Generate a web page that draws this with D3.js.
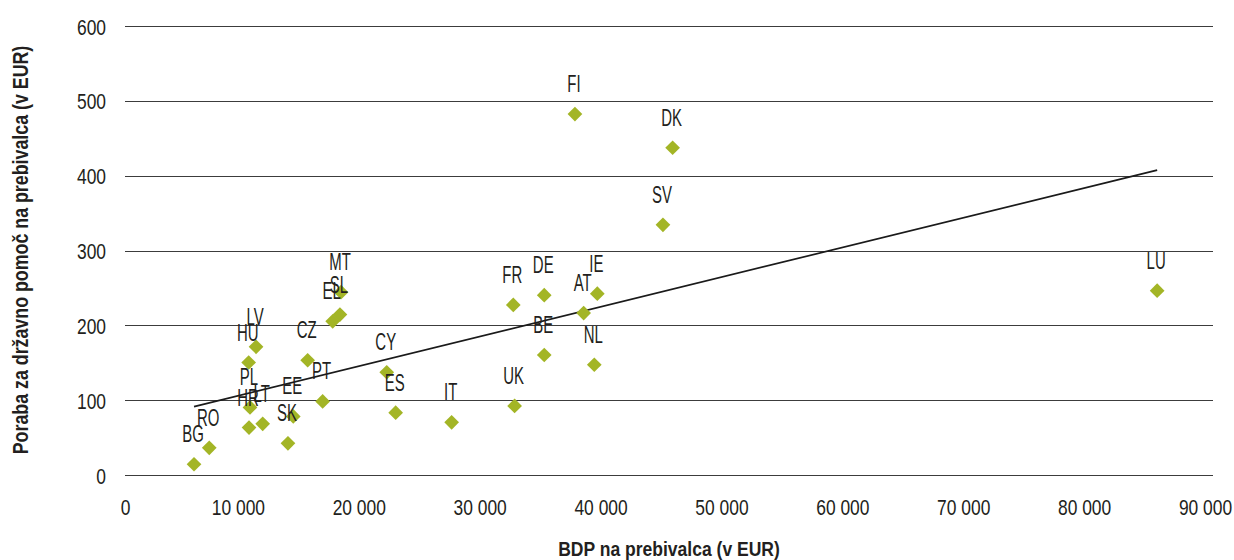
<!DOCTYPE html>
<html>
<head>
<meta charset="utf-8">
<script src="https://cdn.jsdelivr.net/npm/d3@7"></script>
<style>
  html, body { margin: 0; padding: 0; background: #fff; }
  svg { display: block; }
  text { font-family: "Liberation Sans", Arial, sans-serif; fill: #231f20; }
</style>
</head>
<body>
<svg id="chart" width="1234" height="560"></svg>
<script>
// ---- data ----
const countries = ["BG","RO","HR","LT","PL","HU","LV","SK","EE","CZ","PT","EL","SL","MT","CY","ES","IT","FR","UK","DE","BE","AT","IE","NL","SV","DK","FI","LU"];
const gdpPerCapita = [5710,6970,10260,11390,10340,10230,10840,13480,13920,15110,16350,17180,17780,17870,21650,22390,27020,32120,32230,34680,34680,37940,39070,38820,44500,45300,37220,85380];
const aidPerCapita = [15,37,64,69,91,151,172,43,79,154,99,206,215,245,138,84,71,228,93,241,161,217,243,148,335,438,483,247];
const xTicks = [0,10000,20000,30000,40000,50000,60000,70000,80000,90000];
const yTicks = [0,100,200,300,400,500,600];
const trendX = [5710, 85380];
const trendY = [92, 408];
const xTitle = "BDP na prebivalca (v EUR)";
const yTitle = "Poraba za državno pomoč na prebivalca (v EUR)";

// ---- layout ----
const svg = d3.select("#chart");
const mLeft = 125, mRight = 1213, mTop = 26.5, mBottom = 475.5;
const x = d3.scaleLinear().domain([0, 90000]).range([mLeft, mRight]);
const y = d3.scaleLinear().domain([0, 600]).range([mBottom, mTop]);
const fmt = v => v === 0 ? "0" : d3.format(",")(v).replace(/,/g, " ");

// gridlines
svg.append("g").selectAll("line").data(yTicks).join("line")
  .attr("x1", mLeft).attr("x2", mRight)
  .attr("y1", d => Math.floor(y(d)) + 0.5).attr("y2", d => Math.floor(y(d)) + 0.5)
  .attr("stroke", "#3c3c3c").attr("stroke-width", 1);

// y axis labels
const yAxis = d3.axisLeft(y).tickValues(yTicks).tickSize(0).tickPadding(0).tickFormat(d3.format("d"));
const gy = svg.append("g").attr("transform", `translate(106,0)`).call(yAxis);
gy.select(".domain").remove();
gy.attr("font-family", null).attr("font-size", null);
gy.selectAll("text").attr("font-size", 21.5).attr("fill", "#231f20")
  .attr("dy", "0.35em").attr("transform", "scale(0.81,1)");

// x axis labels
const xAxis = d3.axisBottom(x).tickValues(xTicks).tickSize(0).tickPadding(0).tickFormat(fmt);
const gx = svg.append("g").attr("transform", `translate(0,${mBottom})`).call(xAxis);
gx.select(".domain").remove();
gx.attr("font-family", null).attr("font-size", null);
gx.selectAll("text").attr("font-size", 21.5).attr("fill", "#231f20")
  .attr("y", 39.5).attr("dy", 0)
  .attr("x", d => d === 0 ? 0 : -8)
  .attr("transform", d => `translate(${d === 0 ? 0 : -8},0) scale(0.81,1) translate(${d === 0 ? 0 : 8},0)`);

// trend line
svg.append("line")
  .attr("x1", x(trendX[0])).attr("y1", y(trendY[0]))
  .attr("x2", x(trendX[1])).attr("y2", y(trendY[1]))
  .attr("stroke", "#1a1a1a").attr("stroke-width", 1.7);

// points
const pts = countries.map((c, i) => ({ c, gx: gdpPerCapita[i], ay: aidPerCapita[i] }));
const sym = d3.symbol().type(d3.symbolSquare).size(108);
svg.append("g").selectAll("path").data(pts).join("path")
  .attr("d", sym)
  .attr("transform", d => `translate(${x(d.gx)},${y(d.ay)}) rotate(45)`)
  .attr("fill", "#a3b526");

// labels
svg.append("g").selectAll("text").data(pts).join("text")
  .attr("x", 0)
  .attr("y", 0)
  .attr("text-anchor", "middle")
  .attr("font-size", 23)
  .attr("transform", d => `translate(${x(d.gx) - 1},${y(d.ay) - 22}) scale(0.65,1)`)
  .text(d => d.c);

// axis titles
svg.append("text")
  .attr("transform", `translate(${(mLeft + mRight) / 2},556) scale(0.835,1)`)
  .attr("text-anchor", "middle").attr("font-size", 21).attr("font-weight", "bold")
  .text(xTitle);
svg.append("text")
  .attr("transform", `translate(28,250) rotate(-90) scale(0.81,1)`)
  .attr("text-anchor", "middle").attr("font-size", 22).attr("font-weight", "bold")
  .text(yTitle);
</script>
</body>
</html>
